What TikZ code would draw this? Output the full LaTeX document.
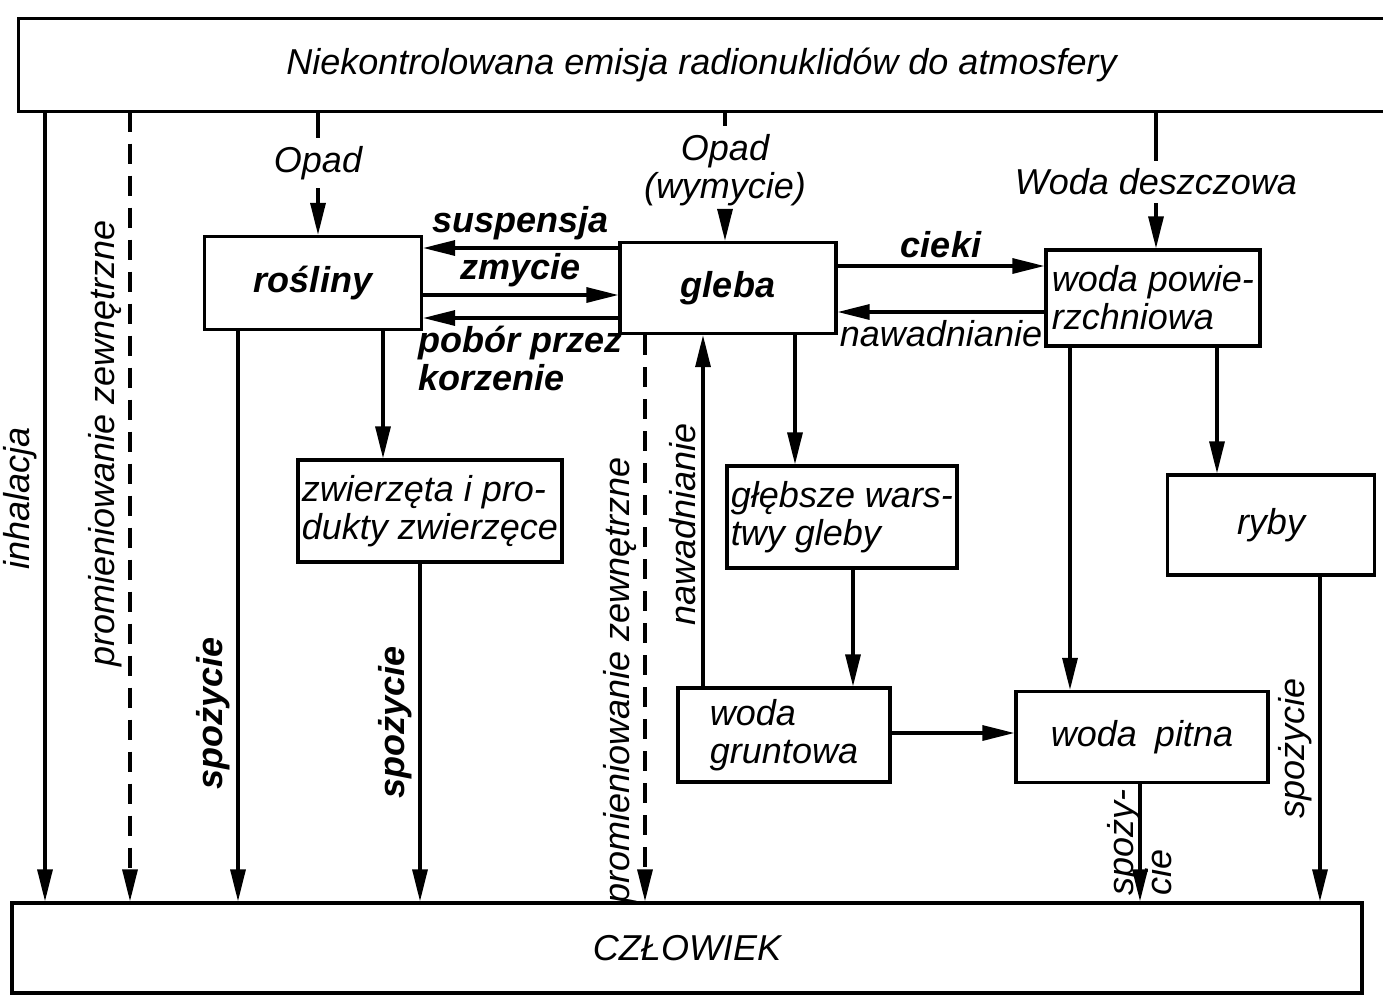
\documentclass[tikz,border=0pt]{standalone}
\usepackage{fontspec}
\setmainfont{Liberation Sans}
\usetikzlibrary{arrows.meta}

\tikzset{
  box/.style={draw,line width=1.6pt,inner sep=2pt},
  arr/.style={line width=1.6pt,-{Triangle[length=16pt,width=7.5pt]}},
  dash arr/.style={arr,dash pattern=on 10pt off 6pt},
  vlbl/.style={rotate=90,anchor=south,inner sep=3pt},
  heavy/.style={font=\bfseries\itshape\fontsize{18}{19}\selectfont}
}

\begin{document}
\begin{tikzpicture}[x=0.5pt,y=-0.5pt,font=\itshape\fontsize{18}{19}\selectfont,line width=1.6pt]
\useasboundingbox (0,0) rectangle (1383,1002);

% source and sink
\node[minimum width=681.5pt,minimum height=45pt] (emisja) at (701.5,65)
  {Niekontrolowana emisja radionuklidów do atmosfery};
\draw (emisja.north east) -| (emisja.south west) -- (emisja.south east);
\node[box,minimum width=675pt,minimum height=45pt] (czlowiek) at (687,948) {CZŁOWIEK};

% compartments
\node[box,heavy,minimum width=108.5pt,minimum height=46.5pt] (rosliny) at (313,283) {rośliny};
\node[box,heavy,minimum width=108pt,minimum height=45.5pt] (gleba) at (728,288) {gleba};
\node[box,align=left,minimum width=107pt,minimum height=48pt] (wodapow) at (1153,298)
  {woda powie-\\rzchniowa};
\node[box,align=left,minimum width=126.5pt,minimum height=51pt] (zwierzeta) at (430,511)
  {zwierzęta i pro-\\dukty zwierzęce};
\node[box,align=left,minimum width=109.5pt,minimum height=51pt] (glebsze) at (842,517)
  {głębsze wars-\\twy gleby};
\node[box,minimum width=103.5pt,minimum height=50pt] (ryby) at (1271,525) {ryby};
\node[box,align=left,minimum width=106pt,minimum height=47pt] (gruntowa) at (784,735)
  {woda\\gruntowa};
\node[box,minimum width=126pt,minimum height=45.5pt] (pitna) at (1142,737) {woda\enspace pitna};

% fallout
\node (opad1) at (318,163) {Opad};
\node[align=center] (opad2) at (725,170) {Opad\\(wymycie)};
\node (deszcz) at (1156,182) {Woda deszczowa};
\draw (emisja.south -| opad1) -- (opad1);
\draw[arr] (opad1) -- (rosliny.north -| opad1);
\draw (emisja.south -| opad2) -- (opad2);
\draw[arr] (opad2) -- (gleba.north -| opad2);
\draw (emisja.south -| deszcz) -- (deszcz);
\draw[arr] (deszcz) -- (wodapow.north -| deszcz);

% exchange between compartments
\draw[arr] (gleba.west |- 0,248) -- node[above,heavy] (susp) {suspensja} (rosliny.east |- 0,248);
\draw[arr] (rosliny.east |- 0,295) -- node[above,heavy] (zmyc) {zmycie} (gleba.west |- 0,295);
\draw[arr] (gleba.west |- 0,318) -- node[below,heavy,align=left] (pobor) {pobór przez\\korzenie} (rosliny.east |- 0,318);
\draw[arr] (gleba.east |- 0,266) -- node[above,heavy] (cieki) {cieki} (wodapow.west |- 0,266);
\draw[arr] (wodapow.west |- 0,312) -- node[below] (naw1) {nawadnianie} (gleba.east |- 0,312);
\draw[arr] (rosliny.south -| 383,0) -- (zwierzeta.north -| 383,0);
\draw[arr] (gruntowa.north -| 703,0) -- node[vlbl,pos=0.46] (naw2) {nawadnianie} (gleba.south -| 703,0);
\draw[arr] (gleba.south -| 795,0) -- (glebsze.north -| 795,0);
\draw[arr] (glebsze.south -| 853,0) -- (gruntowa.north -| 853,0);
\draw[arr] (gruntowa.east |- 0,733) -- (pitna.west |- 0,733);
\draw[arr] (wodapow.south -| 1070,0) -- (pitna.north -| 1070,0);
\draw[arr] (wodapow.south -| 1217,0) -- (ryby.north -| 1217,0);

% pathways to man
\draw[arr] (emisja.south -| 45,0) -- node[vlbl,pos=0.49] (inh) {inhalacja} (czlowiek.north -| 45,0);
\draw[dash arr] (emisja.south -| 130,0) -- node[vlbl,pos=0.42] (prom1) {promieniowanie zewnętrzne} (czlowiek.north -| 130,0);
\draw[arr] (rosliny.south -| 238,0) -- node[vlbl,heavy,pos=0.67] (spoz1) {spożycie} (czlowiek.north -| 238,0);
\draw[arr] (zwierzeta.south -| 420,0) -- node[vlbl,heavy,pos=0.47] (spoz2) {spożycie} (czlowiek.north -| 420,0);
\draw[dash arr] (gleba.south -| 645,0) -- node[vlbl,pos=0.61] (prom2) {promieniowanie zewnętrzne} (czlowiek.north -| 645,0);
\draw[arr] (pitna.south -| 1140,0) -- node[rotate=90,align=left,pos=0.5] (spoz4) {spoży-\\cie} (czlowiek.north -| 1140,0);
\draw[arr] (ryby.south -| 1320,0) -- node[vlbl,pos=0.53] (spoz3) {spożycie} (czlowiek.north -| 1320,0);
\end{tikzpicture}
\end{document}
